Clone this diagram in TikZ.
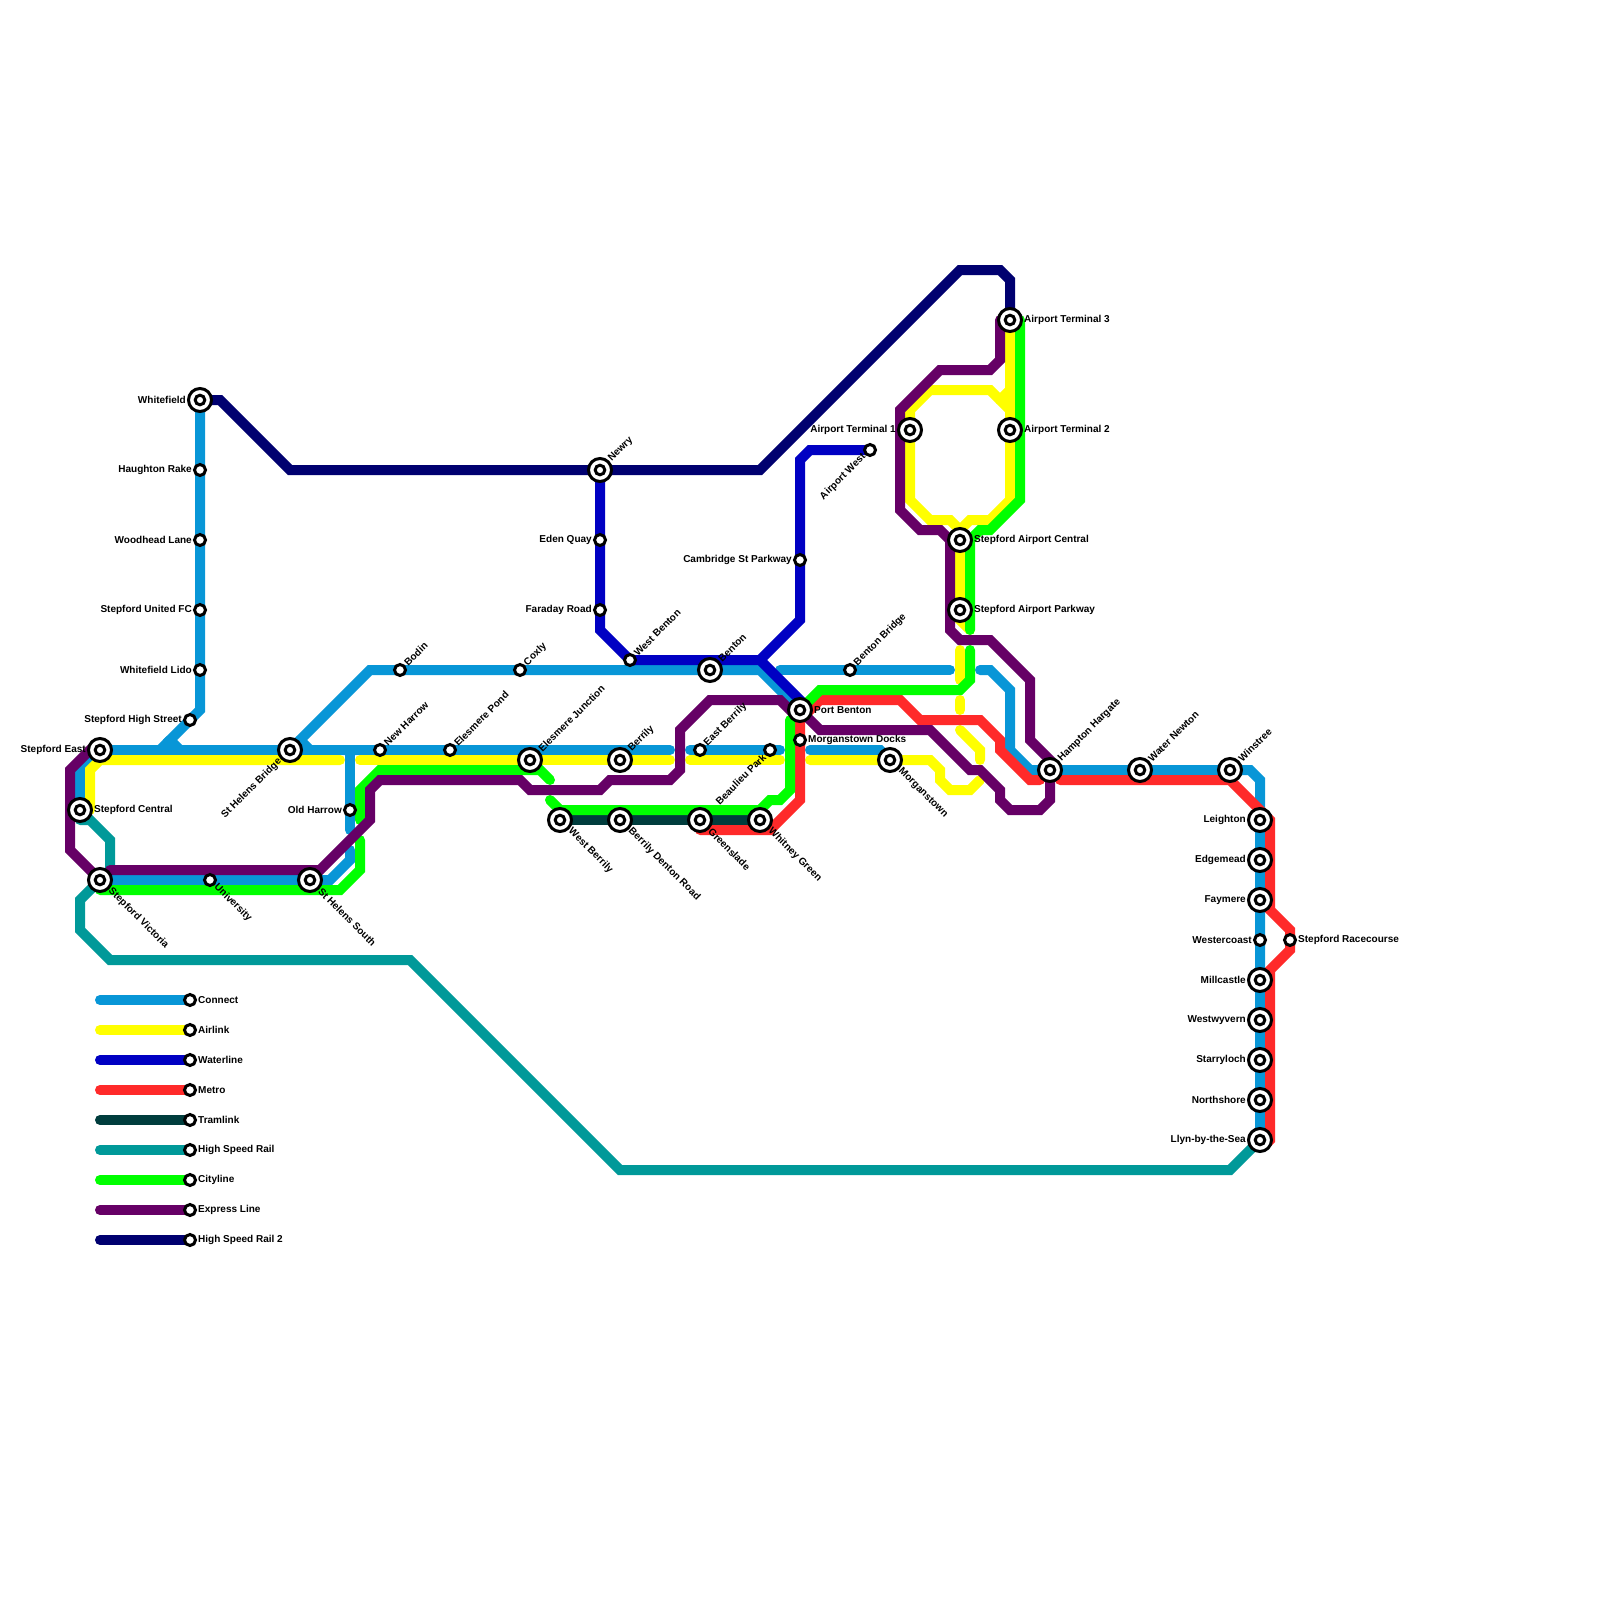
\documentclass[tikz,border=0pt]{standalone}
\usepackage{fontspec}
\setmainfont{Liberation Sans}
\usepackage{tikz}
\usetikzlibrary{backgrounds}
\definecolor{colConnect}{HTML}{0896D7}
\definecolor{colAirlink}{HTML}{FFFF00}
\definecolor{colWaterline}{HTML}{0000C3}
\definecolor{colMetro}{HTML}{FF2A2A}
\definecolor{colTramlink}{HTML}{003D3D}
\definecolor{colRail}{HTML}{009999}
\definecolor{colCityline}{HTML}{00FF00}
\definecolor{colExpress}{HTML}{660066}
\definecolor{colRailTwo}{HTML}{000070}
\tikzset{
  tube/.style={line width=1mm,line cap=round,line join=miter},
  lnConnect/.style={tube,draw=colConnect},
  lnAirlink/.style={tube,draw=colAirlink},
  lnWaterline/.style={tube,draw=colWaterline},
  lnMetro/.style={tube,draw=colMetro},
  lnTramlink/.style={tube,draw=colTramlink},
  lnRail/.style={tube,draw=colRail},
  lnCityline/.style={tube,draw=colCityline},
  lnExpress/.style={tube,draw=colExpress},
  lnRailTwo/.style={tube,draw=colRailTwo},
  stnSmall/.style={circle,draw=black,fill=white,line width=.3mm,inner sep=0pt,
                   minimum size=1.1mm},
  stnBig/.style={circle,draw=black,fill=white,line width=.3mm,inner sep=0pt,
                 minimum size=2.3mm,
                 path picture={\draw[black,line width=.3mm,fill=white]
                   (path picture bounding box.center) circle (.48mm);}},
  lblText/.style={font=\bfseries\fontsize{2.85}{3.4}\selectfont,text=black,inner ysep=0pt,inner xsep=.05mm},
  lblE/.style={label={[lblText,anchor=west]0:#1}},
  lblW/.style={label={[lblText,anchor=east]180:#1}},
  lblNE/.style={label={[lblText,rotate=45,anchor=west]45:#1}},
  lblSE/.style={label={[lblText,rotate=-45,anchor=west]-45:#1}},
  lblSW/.style={label={[lblText,rotate=45,anchor=east]225:#1}},
}
\begin{document}
\begin{tikzpicture}[x=1mm,y=-1mm]
  \useasboundingbox (0,0) rectangle (160,160);

  \node[stnBig,lblW={Whitefield}] (stnWhitefield) at (20,40) {};
  \node[stnSmall,lblW={Haughton Rake}] (stnHaughton) at (20,47) {};
  \node[stnSmall,lblW={Woodhead Lane}] (stnWoodhead) at (20,54) {};
  \node[stnSmall,lblW={Stepford United FC}] (stnUnited) at (20,61) {};
  \node[stnSmall,lblW={Whitefield Lido}] (stnLido) at (20,67) {};
  \node[stnSmall,lblW={Stepford High Street}] (stnHighStreet) at (19,72) {};
  \node[stnBig,lblW={Stepford East}] (stnEast) at (10,75) {};
  \node[stnBig,lblE={Stepford Central}] (stnCentral) at (8,81) {};
  \node[stnBig,lblSE={Stepford Victoria}] (stnVictoria) at (10,88) {};
  \node[stnSmall,lblSE={University}] (stnUniversity) at (21,88) {};
  \node[stnBig,lblSE={St Helens South}] (stnHelensSouth) at (31,88) {};
  \node[stnBig,lblSW={St Helens Bridge}] (stnHelensBridge) at (29,75) {};
  \node[stnSmall,lblW={Old Harrow}] (stnOldHarrow) at (35,81) {};
  \node[stnSmall,lblNE={New Harrow}] (stnNewHarrow) at (38,75) {};
  \node[stnSmall,lblNE={Bodin}] (stnBodin) at (40,67) {};
  \node[stnSmall,lblNE={Elesmere Pond}] (stnPond) at (45,75) {};
  \node[stnSmall,lblNE={Coxly}] (stnCoxly) at (52,67) {};
  \node[stnBig,lblNE={Elesmere Junction}] (stnJunction) at (53,76) {};
  \node[stnBig,lblNE={Berrily}] (stnBerrily) at (62,76) {};
  \node[stnBig,lblSE={West Berrily}] (stnWestBerrily) at (56,82) {};
  \node[stnBig,lblSE={Berrily Denton Road}] (stnDenton) at (62,82) {};
  \node[stnBig,lblSE={Greenslade}] (stnGreenslade) at (70,82) {};
  \node[stnBig,lblSE={Whitney Green}] (stnWhitney) at (76,82) {};
  \node[stnSmall,lblNE={East Berrily}] (stnEastBerrily) at (70,75) {};
  \node[stnSmall,lblSW={Beaulieu Park}] (stnBeaulieu) at (77,75) {};
  \node[stnSmall,lblNE={West Benton}] (stnWestBenton) at (63,66) {};
  \node[stnBig,lblNE={Benton}] (stnBenton) at (71,67) {};
  \node[stnBig,lblNE={Newry}] (stnNewry) at (60,47) {};
  \node[stnSmall,lblW={Eden Quay}] (stnEden) at (60,54) {};
  \node[stnSmall,lblW={Faraday Road}] (stnFaraday) at (60,61) {};
  \node[stnBig,lblE={Port Benton}] (stnPort) at (80,71) {};
  \node[stnSmall,lblE={Morganstown Docks}] (stnDocks) at (80,74) {};
  \node[stnBig,lblSE={Morganstown}] (stnMorganstown) at (89,76) {};
  \node[stnSmall,lblNE={Benton Bridge}] (stnBentonBridge) at (85,67) {};
  \node[stnSmall,lblW={Cambridge St Parkway}] (stnCambridge) at (80,56) {};
  \node[stnSmall,lblSW={Airport West}] (stnAirWest) at (87,45) {};
  \node[stnBig,lblW={Airport Terminal 1}] (stnTerminalOne) at (91,43) {};
  \node[stnBig,lblE={Airport Terminal 2}] (stnTerminalTwo) at (101,43) {};
  \node[stnBig,lblE={Airport Terminal 3}] (stnTerminalThree) at (101,32) {};
  \node[stnBig,lblE={Stepford Airport Central}] (stnAirCentral) at (96,54) {};
  \node[stnBig,lblE={Stepford Airport Parkway}] (stnAirParkway) at (96,61) {};
  \node[stnBig,lblNE={Hampton Hargate}] (stnHampton) at (105,77) {};
  \node[stnBig,lblNE={Water Newton}] (stnWater) at (114,77) {};
  \node[stnBig,lblNE={Winstree}] (stnWinstree) at (123,77) {};
  \node[stnBig,lblW={Leighton}] (stnLeighton) at (126,82) {};
  \node[stnBig,lblW={Edgemead}] (stnEdgemead) at (126,86) {};
  \node[stnBig,lblW={Faymere}] (stnFaymere) at (126,90) {};
  \node[stnSmall,lblW={Westercoast}] (stnWestercoast) at (126,94) {};
  \node[stnSmall,lblE={Stepford Racecourse}] (stnRacecourse) at (129,94) {};
  \node[stnBig,lblW={Millcastle}] (stnMillcastle) at (126,98) {};
  \node[stnBig,lblW={Westwyvern}] (stnWestwyvern) at (126,102) {};
  \node[stnBig,lblW={Starryloch}] (stnStarryloch) at (126,106) {};
  \node[stnBig,lblW={Northshore}] (stnNorthshore) at (126,110) {};
  \node[stnBig,lblW={Llyn-by-the-Sea}] (stnLlyn) at (126,114) {};

  \coordinate (conHighA) at (16,75);
  \coordinate (conHighB) at (18,75);
  \coordinate (conBridgeNub) at (31,75);
  \coordinate (conHarrowEnd) at (35,83);
  \coordinate (conSouthEnd) at (35,85);
  \coordinate (conBerrilyEnd) at (67,75);
  \coordinate (conParkStart) at (69,75);
  \coordinate (conParkEnd) at (78,75);
  \coordinate (conDocksStart) at (81,75);
  \coordinate (conBridgeStart) at (78,67);
  \coordinate (conBridgeEnd) at (95,67);
  \coordinate (conHamptonStart) at (98,67);

  \coordinate (airCentralEnd) at (9,81);
  \coordinate (airHarrowEnd) at (34,76);
  \coordinate (airHarrowStart) at (36,76);
  \coordinate (airBerrilyEnd) at (67,76);
  \coordinate (airParkStart) at (69,76);
  \coordinate (airParkEnd) at (78,76);
  \coordinate (airDocksStart) at (81,76);
  \coordinate (airLowEnd) at (98,78);
  \coordinate (airMidStart) at (98,76);
  \coordinate (airMidEnd) at (96,73);
  \coordinate (airDashStart) at (96,70);
  \coordinate (airDashEnd) at (96,71);
  \coordinate (airUpStart) at (96,65);
  \coordinate (airUpEnd) at (96,68);
  \coordinate (airParkwayEnd) at (97,63);
  \coordinate (airFork) at (96,53);
  \coordinate (airNubStart) at (101,39);
  \coordinate (airNubEnd) at (100,40);

  \coordinate (metroStart) at (70,83);
  \coordinate (metroGapWest) at (104,78);
  \coordinate (metroGapEast) at (106,78);
  \coordinate (metroEnd) at (126.5,114.5);

  \coordinate (railStart) at (8,82);

  \coordinate (cityStart) at (10,89);
  \coordinate (cityGapLow) at (36,84);
  \coordinate (cityGapHigh) at (36,82);
  \coordinate (cityJunctionEnd) at (55,78);
  \coordinate (cityBerrilyStart) at (55,80);
  \coordinate (cityDocksEnd) at (79,72);
  \coordinate (cityPortEnd) at (97,65);
  \coordinate (cityParkwayEnd) at (97,63);
  \coordinate (cityTop) at (102,32);

  \coordinate (exprStart) at (11,87);
  \coordinate (exprTop) at (100,32);

  \begin{scope}[on background layer]
    \draw[lnConnect] (stnWhitefield.center) -- (stnLido.center) -- (20,71) -- (17,74) -- (conHighB);
    \draw[lnConnect] (17,74) -- (conHighA);
    \draw[lnConnect] (stnCentral.center) -- (8,77) -- (stnEast.center) -- (conBerrilyEnd);
    \draw[lnConnect] (stnHelensBridge.center) -- (37,67) -- (76,67) -- (stnPort.center);
    \draw[lnConnect] (30,74) -- (conBridgeNub);
    \draw[lnConnect] (35,75) -- (conHarrowEnd);
    \draw[lnConnect] (conSouthEnd) -- (35,86) -- (33,88) -- (stnVictoria.center);
    \draw[lnConnect] (conParkStart) -- (conParkEnd);
    \draw[lnConnect] (conDocksStart) -- (88,75) -- (stnMorganstown.center);
    \draw[lnConnect] (conBridgeStart) -- (conBridgeEnd);
    \draw[lnConnect] (conHamptonStart) -- (99,67) -- (101,69) -- (101,75) -- (103,77)
      -- (stnHampton.center) -- (125,77) -- (126,78) -- (stnLlyn.center);

    \draw[lnAirlink] (airCentralEnd) -- (9,77) -- (10,76) -- (airHarrowEnd);
    \draw[lnAirlink] (airHarrowStart) -- (stnJunction.center) -- (airBerrilyEnd);
    \draw[lnAirlink] (airParkStart) -- (airParkEnd);
    \draw[lnAirlink] (airDocksStart) -- (93,76) -- (94,77) -- (94,78) -- (95,79) -- (97,79) -- (airLowEnd);
    \draw[lnAirlink] (airMidStart) -- (98,75) -- (airMidEnd);
    \draw[lnAirlink] (airDashStart) -- (airDashEnd);
    \draw[lnAirlink] (airUpStart) -- (airUpEnd);
    \draw[lnAirlink] (stnAirCentral.center) -- (96,62) -- (airParkwayEnd);
    \draw[lnAirlink] (stnAirCentral.center) -- (airFork) -- (95,52) -- (93,52) -- (91,50)
      -- (stnTerminalOne.center) -- (91,41) -- (93,39) -- (99,39) -- (101,41) -- (stnTerminalTwo.center);
    \draw[lnAirlink] (airFork) -- (97,52) -- (99,52) -- (101,50) -- (stnTerminalThree.center);
    \draw[lnAirlink] (airNubStart) -- (airNubEnd);

    \draw[lnWaterline] (stnNewry.center) -- (60,63) -- (stnWestBenton.center) -- (76,66) -- (80,70) -- (stnPort.center);
    \draw[lnWaterline] (76,66) -- (80,62) -- (80,46) -- (81,45) -- (stnAirWest.center);

    \draw[lnMetro] (metroStart) -- (77,83) -- (80,80) -- (80,72) -- (82,70) -- (90,70) -- (92,72) -- (98,72)
      -- (100,74) -- (100,75) -- (103,78) -- (metroGapWest);
    \draw[lnMetro] (metroGapEast) -- (123,78) -- (127,82) -- (127,91) -- (129,93)
      -- (129,95) -- (127,97) -- (127,114) -- (metroEnd);

    \draw[lnTramlink] (stnWestBerrily.center) -- (stnWhitney.center);

    \draw[lnRail] (railStart) -- (9,82) -- (11,84) -- (11,87) -- (8,90) -- (8,93) -- (11,96) -- (41,96)
      -- (62,117) -- (123,117) -- (stnLlyn.center);

    \draw[lnCityline] (cityStart) -- (34,89) -- (36,87) -- (cityGapLow);
    \draw[lnCityline] (cityGapHigh) -- (36,79) -- (38,77) -- (54,77) -- (cityJunctionEnd);
    \draw[lnCityline] (cityBerrilyStart) -- (56,81) -- (76,81) -- (77,80) -- (78,80) -- (79,79) -- (cityDocksEnd);
    \draw[lnCityline] (stnPort.center) -- (82,69) -- (96,69) -- (97,68) -- (cityPortEnd);
    \draw[lnCityline] (cityParkwayEnd) -- (97,54) -- (98,53) -- (99,53) -- (102,50) -- (cityTop);

    \draw[lnExpress] (stnEast.center) -- (9,75) -- (7,77) -- (7,85) -- (stnVictoria.center);
    \draw[lnExpress] (exprStart) -- (32,87) -- (37,82) -- (37,79) -- (38,78) -- (52,78) -- (53,79) -- (60,79)
      -- (61,78) -- (67,78) -- (68,77) -- (68,73) -- (71,70) -- (78,70) -- (79,71) -- (stnPort.center)
      -- (82,73) -- (93,73) -- (97,77) -- (98,77) -- (100,79) -- (100,80) -- (101,81) -- (104,81) -- (105,80)
      -- (stnHampton.center) -- (105,76) -- (103,74) -- (103,68) -- (99,64) -- (96,64) -- (95,63)
      -- (95,54) -- (94,53) -- (92,53) -- (90,51) -- (90,41) -- (94,37) -- (99,37) -- (100,36)
      -- (exprTop);

    \draw[lnRailTwo] (stnWhitefield.center) -- (22,40) -- (29,47) -- (stnNewry.center) -- (76,47) -- (96,27)
      -- (100,27) -- (101,28) -- (stnTerminalThree.center);
  \end{scope}

  \foreach \y/\sty/\txt in {100/lnConnect/Connect,103/lnAirlink/Airlink,106/lnWaterline/Waterline,
      109/lnMetro/Metro,112/lnTramlink/Tramlink,115/lnRail/High Speed Rail,118/lnCityline/Cityline,
      121/lnExpress/Express Line,124/lnRailTwo/High Speed Rail 2} {
    \node[stnSmall,lblE={\txt}] (key\y) at (19,\y) {};
    \coordinate (keyStart\y) at (10,\y);
    \begin{scope}[on background layer]
      \draw[\sty] (keyStart\y) -- (key\y.center);
    \end{scope}
  }
\end{tikzpicture}
\end{document}
